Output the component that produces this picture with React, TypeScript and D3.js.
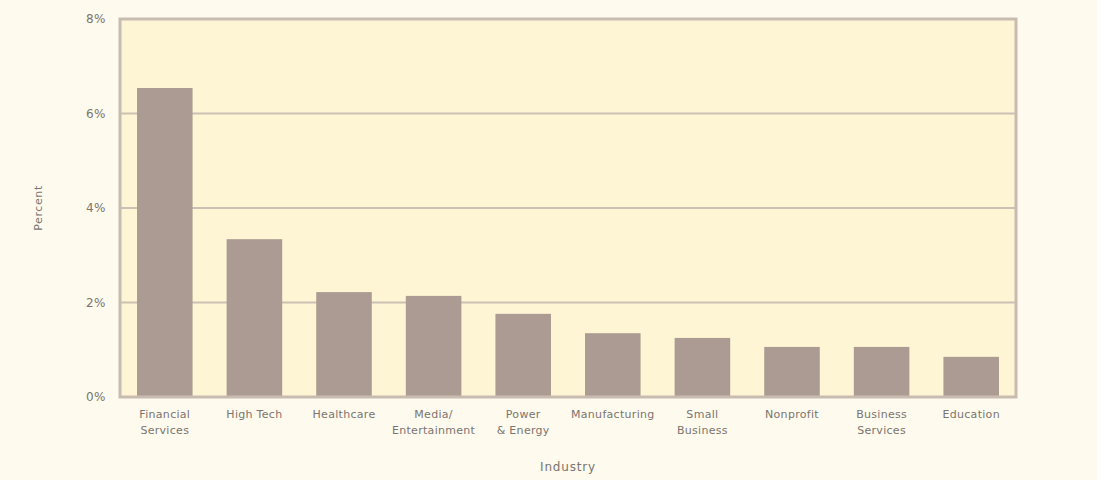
import React from 'react';
import * as d3 from 'd3';

const industries = [
  'Financial\nServices',
  'High Tech',
  'Healthcare',
  'Media/\nEntertainment',
  'Power\n& Energy',
  'Manufacturing',
  'Small\nBusiness',
  'Nonprofit',
  'Business\nServices',
  'Education',
];
const percents = [6.54, 3.34, 2.22, 2.14, 1.76, 1.35, 1.25, 1.06, 1.06, 0.85];
const yTicks = [0, 2, 4, 6, 8];

const W = 1107;
const H = 480;
const margin = { top: 19, right: 91, bottom: 83, left: 120 };
const font = '"DejaVu Sans", sans-serif';

export default function App() {
  const innerW = W - margin.left - margin.right;
  const innerH = H - margin.top - margin.bottom;

  const x = d3
    .scaleBand<string>()
    .domain(industries)
    .range([0, innerW])
    .paddingInner(0.38)
    .paddingOuter(0.19);

  const y = d3.scaleLinear().domain([0, 8]).range([innerH, 0]);

  return (
    <div style={{ position: 'absolute', left: 0, top: 0 }}>
      <svg width={W} height={H} style={{ display: 'block' }}>
        <rect width={W} height={H} fill="#ffffff" />
        <rect width={1097} height={H} fill="#fefaed" />
        <g transform={`translate(${margin.left},${margin.top})`}>
          <rect width={innerW} height={innerH} fill="#fef5d4" />
          {/* grid */}
          {yTicks.map((t) => (
            <line
              key={t}
              x1={0}
              x2={innerW}
              y1={y(t)}
              y2={y(t)}
              stroke="#cbc0b4"
              strokeWidth={2}
            />
          ))}
          {/* bars */}
          {industries.map((d, i) => (
            <rect
              key={d}
              x={x(d)}
              y={y(percents[i])}
              width={x.bandwidth()}
              height={innerH - y(percents[i])}
              fill="#ab9b93"
            />
          ))}
          <rect
            width={innerW}
            height={innerH}
            fill="none"
            stroke="#c8bcb1"
            strokeWidth={3}
          />
          {/* y tick labels */}
          {yTicks.map((t) => (
            <text
              key={t}
              x={-14}
              y={y(t)}
              dy="0.35em"
              textAnchor="end"
              fontFamily={font}
              fontSize={12}
              fill="#7a7570"
              letterSpacing={0.5}
            >
              {t}%
            </text>
          ))}
          {/* x tick labels */}
          {industries.map((d) => (
            <text
              key={d}
              x={(x(d) ?? 0) + x.bandwidth() / 2}
              y={innerH + 21}
              textAnchor="middle"
              fontFamily={font}
              fontSize={11}
              fill="#7a7570"
              letterSpacing={0.3}
            >
              {d.split('\n').map((line, j) => (
                <tspan key={j} x={(x(d) ?? 0) + x.bandwidth() / 2} dy={j === 0 ? 0 : 16}>
                  {line}
                </tspan>
              ))}
            </text>
          ))}
          <text
            x={innerW / 2}
            y={innerH + 74}
            textAnchor="middle"
            fontFamily={font}
            fontSize={12}
            fill="#7a7570"
            letterSpacing={0.8}
          >
            Industry
          </text>
          <text
            transform={`translate(${-78},${innerH / 2}) rotate(-90)`}
            textAnchor="middle"
            fontFamily={font}
            fontSize={11}
            fill="#7a7570"
            letterSpacing={0.6}
          >
            Percent
          </text>
        </g>
      </svg>
    </div>
  );
}
